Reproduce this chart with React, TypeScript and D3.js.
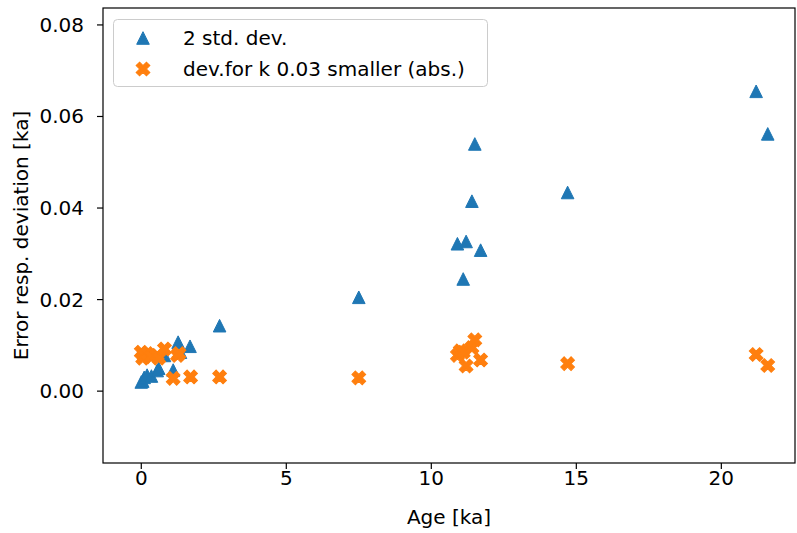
import React from "react";
import * as d3 from "d3";

const stdAges = [0.0, 0.05, 0.1, 0.2, 0.35, 0.55, 0.6, 0.8, 1.1, 1.27, 1.35, 1.68, 2.7, 7.5, 10.9, 11.1, 11.2, 11.4, 11.5, 11.7, 14.7, 21.2, 21.6];
const stdValues = [0.002, 0.0022, 0.003, 0.0035, 0.0033, 0.0045, 0.005, 0.0078, 0.0046, 0.0107, 0.0085, 0.0098, 0.0143, 0.0205, 0.0322, 0.0245, 0.0327, 0.0415, 0.054, 0.0308, 0.0434, 0.0655, 0.0562];

const devAges = [0.0, 0.05, 0.1, 0.2, 0.35, 0.55, 0.6, 0.8, 1.1, 1.25, 1.3, 1.7, 2.7, 7.5, 10.9, 11.0, 11.1, 11.2, 11.4, 11.5, 11.7, 14.7, 21.2, 21.6];
const devValues = [0.0085, 0.0072, 0.0078, 0.0082, 0.0075, 0.0078, 0.0072, 0.0092, 0.0028, 0.0078, 0.0082, 0.0031, 0.0031, 0.0029, 0.0078, 0.0088, 0.0085, 0.0055, 0.0095, 0.0112, 0.0068, 0.006, 0.008, 0.0056];

const xTicks = [0, 5, 10, 15, 20];
const yTicks = [0, 0.02, 0.04, 0.06, 0.08];
const seriesNames = ["2 std. dev.", "dev.for k 0.03 smaller (abs.)"];

const W = 797;
const H = 533;
const left = 103;
const right = 795;
const top = 8;
const bottom = 463;

const BLUE = "#1f77b4";
const ORANGE = "#ff7f0e";
const FONT = "DejaVu Sans";
const FS = 20;

const tri = "M0,-6.3L-6.3,6.3L6.3,6.3Z";
const cross = (d3.symbol().type(d3.symbolCross).size(118)() as string);

export default function App() {
  const x = d3.scaleLinear().domain([-1.32, 22.54]).range([left, right]);
  const y = d3.scaleLinear().domain([-0.0157, 0.0837]).range([bottom, top]);

  return (
    <svg width={W} height={H} style={{ position: "absolute", left: 0, top: 0, background: "#fff" }}>
      <rect x={0} y={0} width={W} height={H} fill="#fff" />
      {stdAges.map((a, i) => (
        <path key={"s" + i} d={tri} transform={`translate(${x(a)},${y(stdValues[i])})`} fill={BLUE} stroke={BLUE} strokeWidth={1} />
      ))}
      {devAges.map((a, i) => (
        <path key={"d" + i} d={cross} transform={`translate(${x(a)},${y(devValues[i])}) rotate(45)`} fill={ORANGE} stroke={ORANGE} strokeWidth={1} />
      ))}
      <rect x={left} y={top} width={right - left} height={bottom - top} fill="none" stroke="#000" strokeWidth={1.2} />
      {xTicks.map((t) => (
        <g key={"xt" + t}>
          <line x1={x(t)} x2={x(t)} y1={bottom} y2={bottom + 6} stroke="#000" strokeWidth={1.2} />
          <text x={x(t)} y={bottom + 22} textAnchor="middle" fontFamily={FONT} fontSize={FS} fill="#000">
            {t}
          </text>
        </g>
      ))}
      {yTicks.map((t) => (
        <g key={"yt" + t}>
          <line x1={left - 6} x2={left} y1={y(t)} y2={y(t)} stroke="#000" strokeWidth={1.2} />
          <text x={left - 19} y={y(t)} dy="0.35em" textAnchor="end" fontFamily={FONT} fontSize={FS} fill="#000">
            {t.toFixed(2)}
          </text>
        </g>
      ))}
      <text x={(left + right) / 2} y={524} textAnchor="middle" fontFamily={FONT} fontSize={FS} fill="#000">
        Age [ka]
      </text>
      <text transform={`translate(28,${(top + bottom) / 2}) rotate(-90)`} textAnchor="middle" fontFamily={FONT} fontSize={FS} fill="#000">
        Error resp. deviation [ka]
      </text>
      <g>
        <rect x={113.5} y={19.5} width={374} height={67} rx={4} fill="#fff" fillOpacity={0.8} stroke="#cccccc" strokeWidth={1} />
        <path d={tri} transform="translate(143,38)" fill={BLUE} stroke={BLUE} strokeWidth={1} />
        <path d={cross} transform="translate(143,69) rotate(45)" fill={ORANGE} stroke={ORANGE} strokeWidth={1} />
        <text x={183} y={38} dy="0.35em" fontFamily={FONT} fontSize={FS} fill="#000">{seriesNames[0]}</text>
        <text x={183} y={69} dy="0.35em" fontFamily={FONT} fontSize={FS} fill="#000">{seriesNames[1]}</text>
      </g>
    </svg>
  );
}
